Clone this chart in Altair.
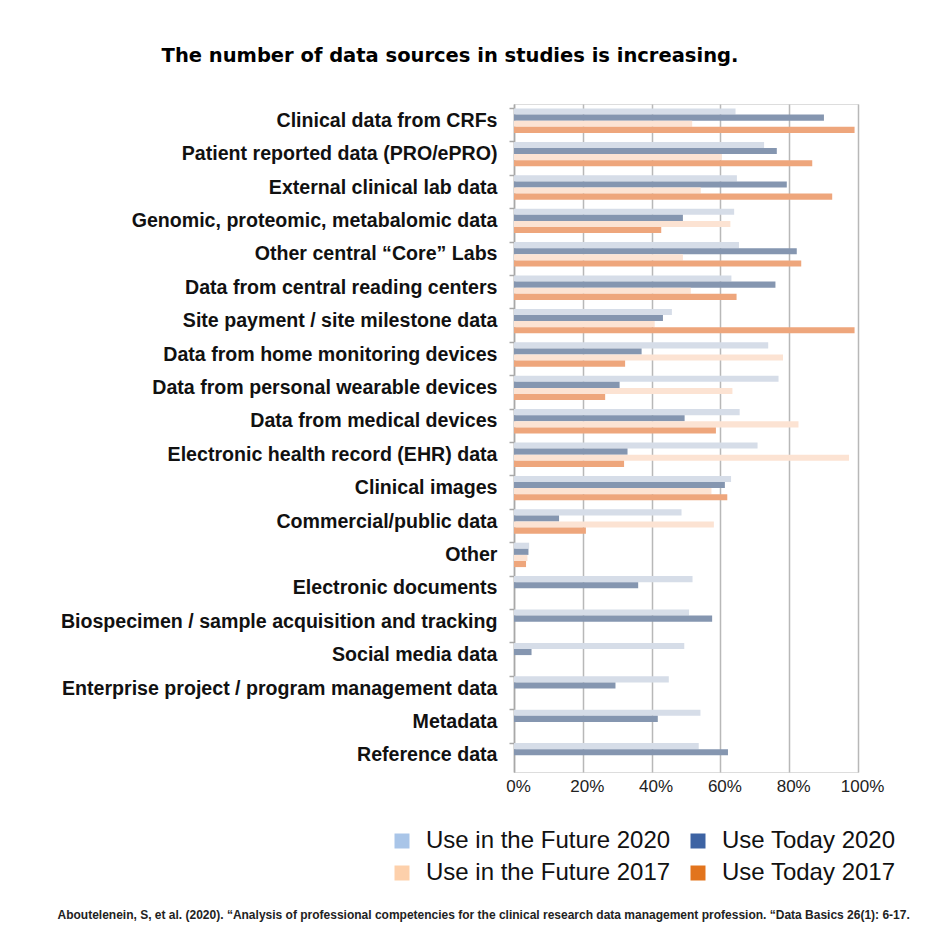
import altair as alt
import pandas as pd

categories = [
    "Clinical data from CRFs",
    "Patient reported data (PRO/ePRO)",
    "External clinical lab data",
    "Genomic, proteomic, metabalomic data",
    "Other central “Core” Labs",
    "Data from central reading centers",
    "Site payment / site milestone data",
    "Data from home monitoring devices",
    "Data from personal wearable devices",
    "Data from medical devices",
    "Electronic health record (EHR) data",
    "Clinical images",
    "Commercial/public data",
    "Other",
    "Electronic documents",
    "Biospecimen / sample acquisition and tracking",
    "Social media data",
    "Enterprise project / program management data",
    "Metadata",
    "Reference data",
]

series_names = ["Use in the Future 2020", "Use Today 2020",
                "Use in the Future 2017", "Use Today 2017"]

future_2020 = [64.4, 72.7, 64.8, 64.0, 65.4, 63.2, 45.9, 73.9, 76.9, 65.6,
               70.8, 63.1, 48.7, 4.4, 51.9, 50.9, 49.5, 45.0, 54.2, 53.7]
today_2020 = [90.1, 76.4, 79.3, 49.1, 82.2, 76.0, 43.3, 37.1, 30.7, 49.6,
              33.0, 61.3, 13.1, 4.2, 36.1, 57.6, 5.1, 29.5, 41.8, 62.2]
future_2017 = [51.8, 60.4, 54.3, 62.9, 49.1, 51.4, 40.9, 78.2, 63.5, 82.7,
               97.4, 57.4, 58.1, 3.9, None, None, None, None, None, None]
today_2017 = [99.0, 86.7, 92.5, 42.8, 83.5, 64.7, 99.0, 32.3, 26.5, 58.7,
              32.0, 62.0, 20.9, 3.5, None, None, None, None, None, None]

x_ticks = [0, 20, 40, 60, 80, 100]

bar_colors = ["#d6dde8", "#8596b0", "#fce3d3", "#eea67c"]
legend_colors = ["#a9c5e8", "#3d63a3", "#fdd0ab", "#e2741d"]

title_text = "The number of data sources in studies is increasing."
citation = ("Aboutelenein, S, et al. (2020). \u201cAnalysis of professional competencies for the "
            "clinical research data management profession. \u201cData Basics 26(1): 6-17.")

rows = []
for i, cat in enumerate(categories):
    for s, vals in zip(series_names, [future_2020, today_2020, future_2017, today_2017]):
        rows.append({"category": cat, "series": s, "value": vals[i]})
df = pd.DataFrame(rows)

FONT = "Liberation Sans"

x_enc = alt.X(
    "value:Q",
    scale=alt.Scale(domain=[0, 100], nice=False),
    axis=alt.Axis(
        values=x_ticks, labelExpr="datum.value + '%'",
        grid=True, gridColor="#b8b8b8", gridWidth=1.5,
        domain=False, ticks=False, labelFlush=False, labelOffset=4,
        labelFont=FONT, labelFontSize=17, labelColor="#222", labelPadding=6,
        title=citation, titleFont=FONT, titleFontSize=12, titleFontWeight="bold",
        titleColor="#222", titleX=-457, titleY=142, titleAlign="left",
        titleAnchor="start", titleBaseline="middle",
    ),
)
y_enc = alt.Y(
    "category:N", sort=categories,
    scale=alt.Scale(paddingInner=0.27, paddingOuter=0.135),
    axis=alt.Axis(
        title=None, grid=False, bandPosition=0,
        labelFont=FONT, labelFontSize=19.6, labelFontWeight="bold", labelColor="#111",
        labelLimit=700, labelPadding=12,
        tickSize=5, tickColor="#a8a8a8", tickWidth=1.5,
        domainColor="#a8a8a8", domainWidth=1.5,
    ),
)
yoff_enc = alt.YOffset(
    "series:N", sort=series_names,
    scale=alt.Scale(domain=series_names, paddingInner=0, paddingOuter=0),
)

legend_layer = alt.Chart(df).mark_bar(opacity=0).encode(
    x=x_enc, y=y_enc, yOffset=yoff_enc,
    color=alt.Color(
        "series:N",
        scale=alt.Scale(domain=series_names, range=legend_colors),
        legend=alt.Legend(
            title=None, orient="none", legendX=-124, legendY=725,
            direction="horizontal", columns=2,
            symbolType="square", symbolSize=225, symbolOpacity=1, symbolStrokeWidth=0,
            labelFont=FONT, labelFontSize=24, labelColor="#111", labelOffset=12,
            columnPadding=15, rowPadding=8, labelLimit=500, padding=0,
        ),
    ),
)

bars = alt.Chart(df).mark_bar().encode(
    x=x_enc, y=y_enc, yOffset=yoff_enc,
    color=alt.Color(
        "series:N",
        scale=alt.Scale(domain=series_names, range=bar_colors),
        legend=None,
    ),
)

chart = alt.layer(legend_layer, bars).resolve_scale(color="independent").properties(
    width=344,
    height=668,
    autosize=alt.AutoSizeParams(type="none"),
    padding={"left": 506, "top": 96, "right": 80, "bottom": 155},
    title=alt.TitleParams(
        text=title_text, font="DejaVu Sans", fontSize=19.5, fontWeight="bold", color="#000",
        anchor="middle", dx=-236, offset=38,
    ),
).configure_view(stroke=None).configure(background="white")

chart.save("out.html", embed_options={"renderer": "svg", "actions": False})
